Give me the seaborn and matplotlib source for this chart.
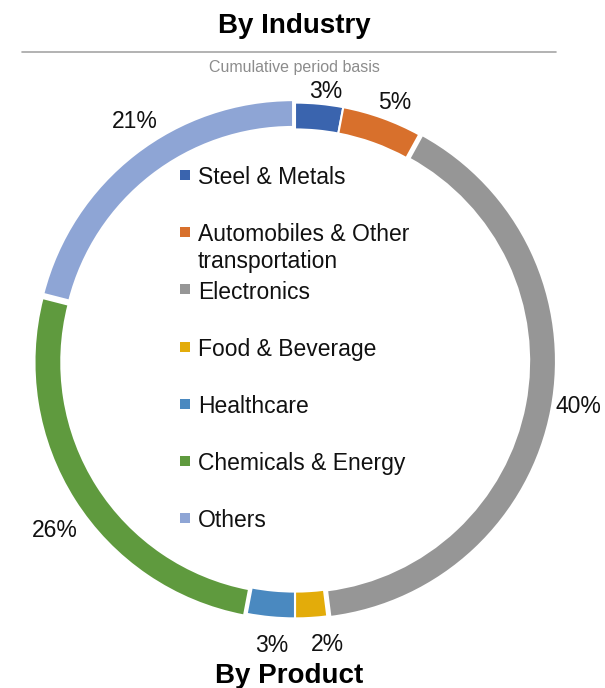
import numpy as np
import matplotlib
matplotlib.use("Agg")
import matplotlib.pyplot as plt
from matplotlib.patches import Rectangle
from matplotlib.lines import Line2D
import seaborn as sns

# datos del gráfico
categories = ["Steel & Metals", "Automobiles & Other\ntransportation", "Electronics",
              "Food & Beverage", "Healthcare", "Chemicals & Energy", "Others"]
shares = [3, 5, 40, 2, 3, 26, 21]
pct_labels = ["3%", "5%", "40%", "2%", "3%", "26%", "21%"]
colors = ["#3A64AE", "#D8702C", "#969696", "#E3AC0A", "#4A89C0", "#5F9A3E", "#8EA5D5"]
explode = [0, 0, 0.012, 0, 0, 0.012, 0.012]
# distancia radial de cada etiqueta y pequeño giro (grados) respecto al centro del sector
label_r = [1.041, 1.062, 1.104, 1.097, 1.098, 1.128, 1.106]
label_nudge = [-1.2, -1.4, 1.6, 3.0, 0.7, 2.9, -4.0]

sns.set_theme(style="white")
plt.rcParams["font.family"] = ["Liberation Sans", "DejaVu Sans"]
palette = sns.color_palette(colors)

W, H = 605, 688
fig = plt.figure(figsize=(W / 100, H / 100), dpi=100)
fig.patch.set_facecolor("white")

# anillo: centro (295, 360.5) px, radio 260.5 px
cx, cy, R = 295, 360.5, 260.5
ax = fig.add_axes([(cx - R) / W, (H - cy - R) / H, 2 * R / W, 2 * R / H])
wedges, _ = ax.pie(shares, colors=palette, startangle=90, counterclock=False,
                   radius=0.99, explode=explode,
                   wedgeprops=dict(width=0.103, edgecolor="white", linewidth=1.5))
ax.set_xlim(-1, 1)
ax.set_ylim(-1, 1)
ax.axis("off")

# etiquetas de porcentaje fuera del anillo
for w, lab, r, dth in zip(wedges, pct_labels, label_r, label_nudge):
    ang = np.deg2rad((w.theta1 + w.theta2) / 2 + dth)
    ax.text(r * np.cos(ang), r * np.sin(ang), lab, ha="center", va="center",
            fontsize=16.5, color="#111111")

# títulos
fig.text(294 / W, 1 - 33 / H, "By Industry", ha="center", va="baseline",
         fontsize=20, fontweight="bold", color="black")
fig.add_artist(Line2D([22 / W, 556 / W], [1 - 51.5 / H, 1 - 51.5 / H],
                      color="#A6A6A6", lw=1.2))
fig.text(294 / W, 1 - 67.5 / H, "Cumulative period basis", ha="center", va="center",
         fontsize=11.5, color="#8C8C8C")
fig.text(289 / W, 1 - 683 / H, "By Product", ha="center", va="baseline",
         fontsize=20, fontweight="bold", color="black")

# leyenda manual dentro del anillo
for i, (name, col) in enumerate(zip(categories, palette)):
    yc = 175 + 57.2 * i
    fig.add_artist(Rectangle((180 / W, 1 - (yc + 5) / H), 10 / W, 10 / H,
                             transform=fig.transFigure, color=col, lw=0))
    fig.text(198 / W, 1 - (yc - 8.8) / H, name, ha="left", va="top",
             fontsize=16.5, color="#111111", linespacing=1.2)

fig.savefig("out.png", dpi=100)
